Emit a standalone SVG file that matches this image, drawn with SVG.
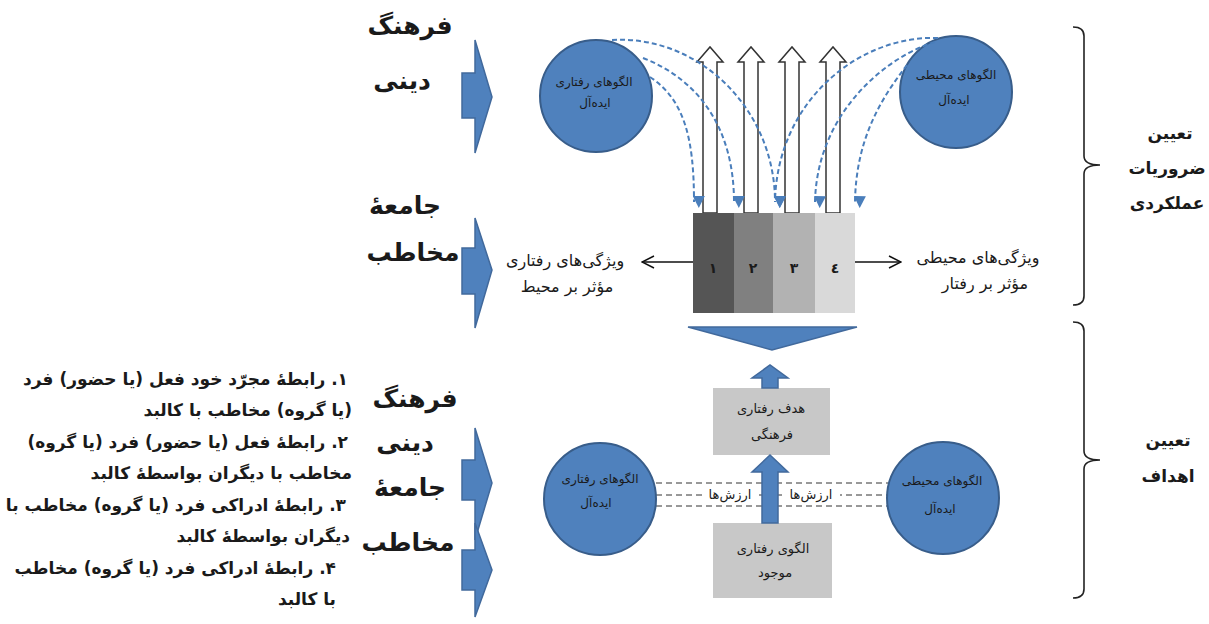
<svg xmlns="http://www.w3.org/2000/svg" width="1209" height="624" viewBox="0 0 1209 624">
<style>
text{font-family:"DejaVu Sans","Noto Sans",sans-serif;direction:rtl;dominant-baseline:central;fill:#1a1a1a}
.title{font-size:25px;font-weight:bold;text-anchor:middle}
.para{font-size:17px;font-weight:bold;text-anchor:start}
.small{font-size:12px;text-anchor:middle}
.mid{font-size:16px;text-anchor:middle}
.box{font-size:13px;text-anchor:middle}
.side{font-size:17px;font-weight:bold;text-anchor:middle}
.num{font-size:14px;font-weight:bold;text-anchor:middle}
.blue{fill:#4f81bd;stroke:#41699c;stroke-width:1.5}
.circ{fill:#4f81bd;stroke:#385d8a;stroke-width:2}
.dash{fill:none;stroke:#4a7ebb;stroke-width:2;stroke-dasharray:5 3}
.hdash{stroke:#333;stroke-width:1;stroke-dasharray:6 4}
.hollow{fill:#fff;stroke:#333;stroke-width:1.5}
.brace{fill:none;stroke:#222;stroke-width:1.6}
.gbox{fill:#c8c8c8}
</style>
<defs>
<marker id="bh" markerWidth="12" markerHeight="12" viewBox="0 0 10 10" refX="5" refY="9" orient="auto" markerUnits="userSpaceOnUse">
<path d="M0,0 L10,0 L5,10 Z" fill="#4a7ebb" transform="rotate(-90 5 5)"/>
</marker>
<marker id="oh" markerWidth="14" markerHeight="14" viewBox="0 0 14 14" refX="13" refY="7" orient="auto" markerUnits="userSpaceOnUse">
<path d="M1,1 L13,7 L1,13" fill="none" stroke="#111" stroke-width="1.5"/>
</marker>
<path id="harrow" d="M-7,213 L-7,62 L-13,62 L0,47 L13,62 L7,62 L7,213 Z"/>
</defs>

<g id="left-chevrons">
<polygon class="blue" points="462,73 475,73 475,40 492,97 475,153 475,118 462,118"/>
<polygon class="blue" points="462,248 475,248 475,218 492,270 475,328 475,294 462,294"/>
<polygon class="blue" points="462,460 475,460 475,428 492,483 475,540 475,500 462,500"/>
<polygon class="blue" points="462,550 475,550 475,523 492,570 475,617 475,590 462,590"/>
</g>

<g id="titles">
<text class="title" x="410" y="25">فرهنگ</text>
<text class="title" x="402" y="80">دینی</text>
<text class="title" x="405" y="205">جامعهٔ</text>
<text class="title" x="413" y="252">مخاطب</text>
<text class="title" x="415" y="398">فرهنگ</text>
<text class="title" x="405" y="442">دینی</text>
<text class="title" x="410" y="487">جامعهٔ</text>
<text class="title" x="408" y="542">مخاطب</text>
</g>

<g id="legend">
<text class="para" x="348" y="379">۱. رابطهٔ مجرّد خود فعل (یا حضور) فرد</text>
<text class="para" x="352" y="410">(یا گروه) مخاطب با کالبد</text>
<text class="para" x="348" y="442">۲. رابطهٔ فعل (یا حضور) فرد (یا گروه)</text>
<text class="para" x="352" y="473">مخاطب با دیگران بواسطهٔ کالبد</text>
<text class="para" x="346" y="505">۳.  رابطهٔ ادراکی فرد (یا گروه) مخاطب با</text>
<text class="para" x="350" y="536">دیگران بواسطهٔ کالبد</text>
<text class="para" x="336" y="568">۴. رابطهٔ ادراکی فرد (یا گروه) مخاطب</text>
<text class="para" x="336" y="599">با کالبد</text>
</g>

<g id="hollow-arrows">
<use href="#harrow" class="hollow" x="710"/>
<use href="#harrow" class="hollow" x="751"/>
<use href="#harrow" class="hollow" x="792"/>
<use href="#harrow" class="hollow" x="833"/>
</g>

<g id="blocks">
<rect x="693" y="213" width="41" height="100" fill="#555555"/>
<rect x="734" y="213" width="39" height="100" fill="#808080"/>
<rect x="773" y="213" width="42" height="100" fill="#b2b2b2"/>
<rect x="815" y="213" width="40" height="100" fill="#d9d9d9"/>
<text class="num" x="713" y="268">١</text>
<text class="num" x="753" y="268">٢</text>
<text class="num" x="794" y="268">٣</text>
<text class="num" x="835" y="268">٤</text>
</g>

<g id="circle-tl">
<circle class="circ" cx="596" cy="96" r="56"/>
<text class="small" x="594" y="82">الگوهای رفتاری</text>
<text class="small" x="595" y="103">ایده‌آل</text>
</g>
<g id="circle-tr">
<circle class="circ" cx="956" cy="92" r="56"/>
<text class="small" x="956" y="75">الگوهای محیطی</text>
<text class="small" x="954" y="100">ایده‌آل</text>
</g>

<g id="connectors">
<path class="dash" d="M650,77 C685,100 694,140 694,202" marker-end="url(#bh)"/>
<path class="dash" d="M643,58 C700,80 734,130 734,202" marker-end="url(#bh)"/>
<path class="dash" d="M612,40 C700,35 775,110 775,202" marker-end="url(#bh)"/>
<path class="dash" d="M938,38 C860,35 777,100 775,202" marker-end="url(#bh)"/>
<path class="dash" d="M935,42 C890,55 817,110 815,202" marker-end="url(#bh)"/>
<path class="dash" d="M907,65 C880,100 856,140 855,202" marker-end="url(#bh)"/>
<line x1="693" y1="262" x2="642" y2="262" stroke="#111" stroke-width="1.5" marker-end="url(#oh)"/>
<line x1="855" y1="262" x2="901" y2="262" stroke="#111" stroke-width="1.5" marker-end="url(#oh)"/>
<line class="hdash" x1="656" y1="483" x2="888" y2="483"/>
<line class="hdash" x1="656" y1="495" x2="888" y2="495"/>
<line class="hdash" x1="656" y1="506" x2="888" y2="506"/>
</g>

<g id="label-left">
<text class="mid" x="565" y="260">ویژگی‌های رفتاری</text>
<text class="mid" x="567" y="286">مؤثر بر محیط</text>
</g>
<g id="label-right">
<text class="mid" x="978" y="257">ویژگی‌های محیطی</text>
<text class="mid" x="985" y="283">مؤثر بر رفتار</text>
</g>

<g id="funnel">
<polygon class="blue" points="688,327 857,327 772,350"/>
</g>

<g id="goal-box">
<rect class="gbox" x="713" y="388" width="117" height="67"/>
<text class="box" x="771" y="408">هدف رفتاری</text>
<text class="box" x="772" y="434">فرهنگی</text>
</g>
<g id="current-box">
<rect class="gbox" x="713" y="523" width="119" height="75"/>
<text class="box" x="773" y="548">الگوی رفتاری</text>
<text class="box" x="775" y="572">موجود</text>
</g>

<g id="values">
<rect x="702" y="488" width="57" height="14" fill="#fff"/>
<rect x="782" y="488" width="58" height="14" fill="#fff"/>
<text class="box" x="730" y="494">ارزش‌ها</text>
<text class="box" x="811" y="494">ارزش‌ها</text>
</g>

<g id="up-arrows">
<polygon class="blue" points="762,388 762,378 752,378 770,365 788,378 778,378 778,388"/>
<polygon class="blue" points="762,523 762,472 752,472 770,455 788,472 778,472 778,523"/>
</g>

<g id="circle-bl">
<circle class="circ" cx="600" cy="499" r="56"/>
<text class="small" x="600" y="479">الگوهای رفتاری</text>
<text class="small" x="596" y="503">ایده‌آل</text>
</g>
<g id="circle-br">
<circle class="circ" cx="943" cy="498" r="56"/>
<text class="small" x="942" y="481">الگوهای محیطی</text>
<text class="small" x="940" y="509">ایده‌آل</text>
</g>

<g id="brace-top">
<path class="brace" d="M1073,27 Q1084,27 1084,36 L1084,156 Q1084,165 1100,165 Q1084,165 1084,174 L1084,296 Q1084,305 1073,305"/>
<text class="side" x="1170" y="133">تعیین</text>
<text class="side" x="1167" y="168">ضروریات</text>
<text class="side" x="1167" y="203">عملکردی</text>
</g>
<g id="brace-bottom">
<path class="brace" d="M1073,322 Q1084,322 1084,331 L1084,451 Q1084,460 1100,460 Q1084,460 1084,469 L1084,589 Q1084,598 1073,598"/>
<text class="side" x="1168" y="440">تعیین</text>
<text class="side" x="1168" y="476">اهداف</text>
</g>
</svg>
